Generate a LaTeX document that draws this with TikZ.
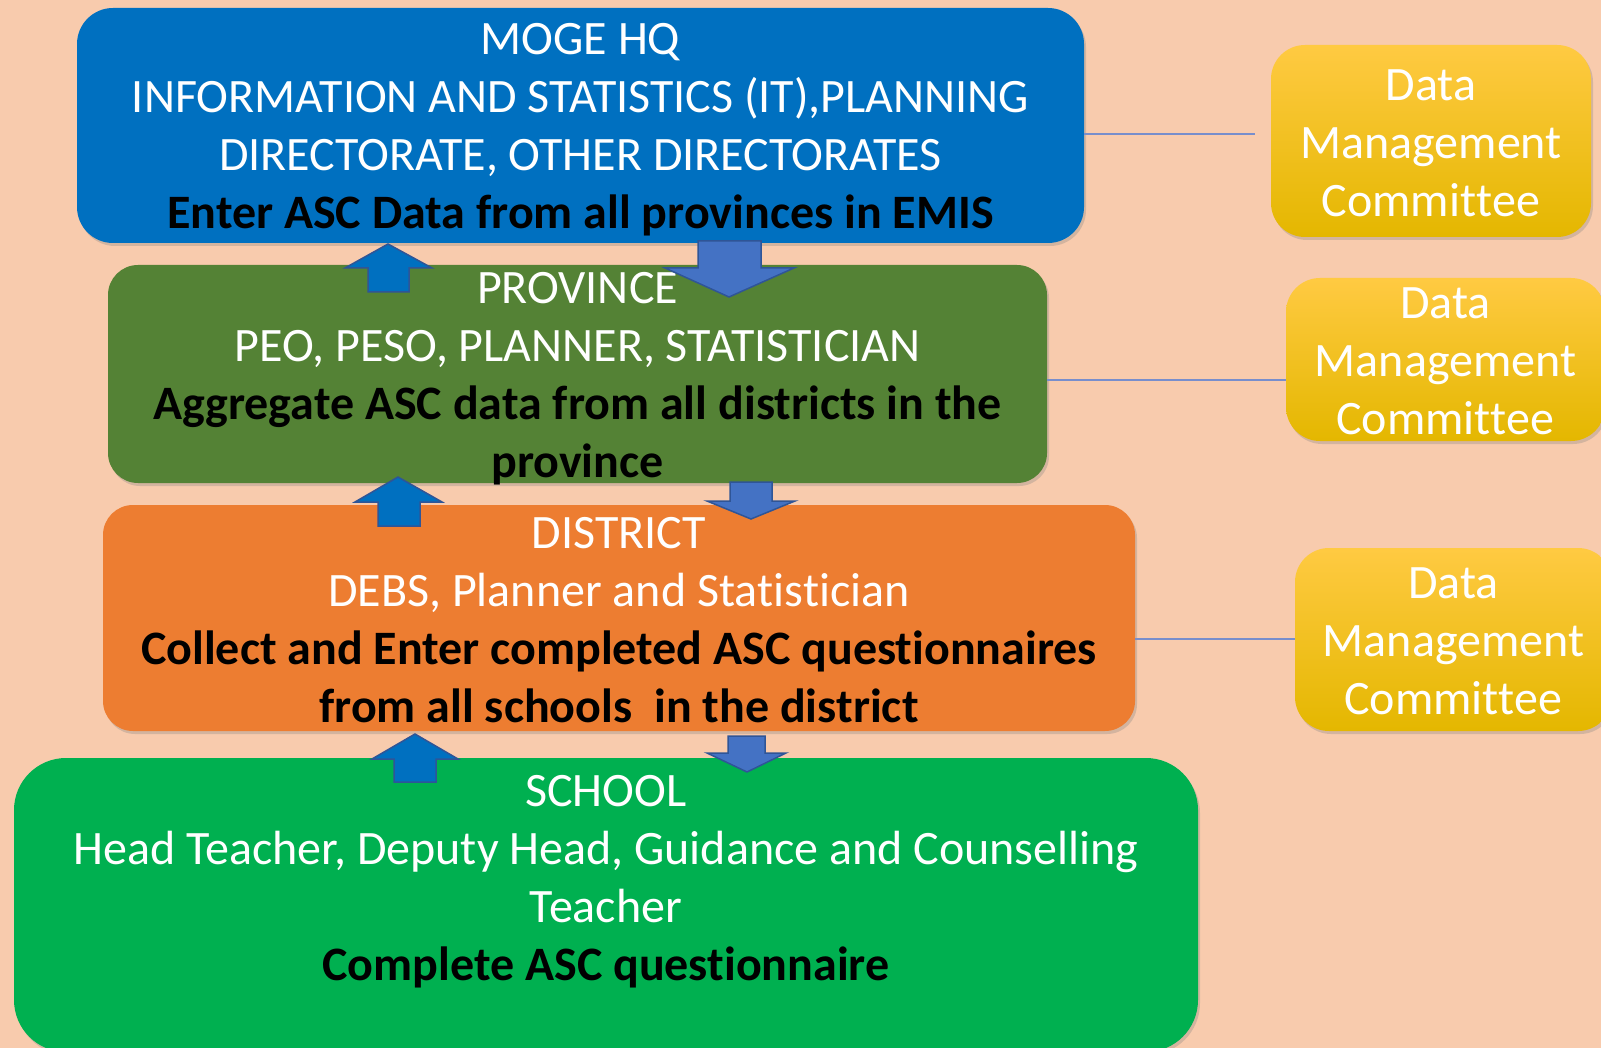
\documentclass[tikz,border=0pt]{standalone}
\usepackage{fontspec}
\setmainfont{Carlito}[Ligatures={NoCommon,NoContextual}, RawFeature={-liga;-clig;-dlig;-calt}]
\usetikzlibrary{shadows}
% zero kern that keeps letter pairs such as t+i apart
\newcommand{\brk}{\kern0pt{}}
\definecolor{pagebg}{HTML}{F8CBAD}
\definecolor{hqblue}{HTML}{0070C0}
\definecolor{provgreen}{HTML}{548235}
\definecolor{distorange}{HTML}{ED7D31}
\definecolor{schoolgreen}{HTML}{00B050}
\definecolor{goldtop}{RGB}{255,202,66}
\definecolor{goldmid}{RGB}{255,199,0}
\definecolor{goldbot}{RGB}{228,183,0}
\definecolor{linkblue}{RGB}{120,142,204}
\definecolor{arrowedge}{HTML}{2F5597}
\definecolor{downblue}{HTML}{4472C4}
\begin{document}
\begin{tikzpicture}[x=1pt,y=-1pt,
  txt/.style={font=\fontsize{48}{58}\selectfont, align=center, text=white, inner sep=0pt},
  level/.style={inner sep=0pt, rounded corners=36pt,
    drop shadow={shadow xshift=2pt, shadow yshift=-3pt, opacity=0.3}},
  dmc/.style={level, rounded corners=34pt, top color=goldtop, middle color=goldmid, bottom color=goldbot},
  link/.style={draw=linkblue, line width=1.3pt},
  uparrow/.style={fill=hqblue, draw=arrowedge, line width=1.5pt, line join=miter},
  downarrow/.style={fill=downblue, draw=arrowedge, line width=1.5pt, line join=miter}]
\fill[pagebg] (0,0) rectangle (1601,1048);
\useasboundingbox (0,0) rectangle (1601,1048);

% the four reporting levels
\node[level, fill=hqblue, minimum width=1007pt, minimum height=235pt] (hq) at (580.5,125.5) {};
\node[txt] (hqtext) at (580.5,129.5)
  {MOGE HQ\\INFORMATION AND STATISTICS (IT),PLANNING\\DIRECTORATE, OTHER DIRECTORATES\\
   \textcolor{black}{\bfseries Enter ASC Data from all provinces in EMIS}};
\node[level, fill=provgreen, rounded corners=30pt, minimum width=939pt, minimum height=218pt] (prov) at (577.5,374) {};
\node[txt] (provtext) at (577.5,379)
  {PROVINCE\\PEO, PESO, PLANNER, STATISTICIAN\\
   \textcolor{black}{\bfseries Aggregate ASC data from all districts in the}\\
   \textcolor{black}{\bfseries province}};
\node[level, fill=distorange, rounded corners=30pt, minimum width=1032pt, minimum height=226pt] (dist) at (619,618) {};
\node[txt] (disttext) at (619,620.5)
  {DISTRICT\\DEBS, Planner and Stat\brk is\brk t\brk ician\\
   \textcolor{black}{\bfseries Collect and Enter completed ASC quest\brk ionnaires}\\
   \textcolor{black}{\bfseries from all schools~ in the district}};
\node[level, fill=schoolgreen, rounded corners=52pt, minimum width=1184pt, minimum height=294pt] (school) at (606,905) {};
\node[txt] (schooltext) at (606,881.5)
  {SCHOOL\\Head Teacher, Deputy Head, Guidance and Counselling\\Teacher\\
   \textcolor{black}{\bfseries Complete ASC quest\brk ionnaire}};

% data management committees
\node[dmc, minimum width=320pt, minimum height=192pt] (dmc1) at (1431,141) {};
\node[txt] (dmc1text) at (1431,143) {Data\\Management\\Commit\brk t\brk ee};
\node[dmc, minimum width=319pt, minimum height=163pt] (dmc2) at (1445.5,359.5) {};
\node[txt] (dmc2text) at (1445.5,361.5) {Data\\Management\\Commit\brk t\brk ee};
\node[dmc, minimum width=317pt, minimum height=183pt] (dmc3) at (1453.5,639.5) {};
\node[txt] (dmc3text) at (1453.5,641.5) {Data\\Management\\Commit\brk t\brk ee};

% links from each level to its committee
\coordinate (l1) at (1255,134);
\coordinate (l2) at (0,380);
\coordinate (l3) at (0,639);
\draw[link] (hq.east |- l1) -- (l1);
\draw[link] (prov.east |- l2) -- (dmc2.west |- l2);
\draw[link] (dist.east |- l3) -- (dmc3.west |- l3);

% block arrows: reporting upward, feedback downward
\draw[uparrow] (388,244) -- (432,268) -- (409,268) -- (409,292) -- (368,292) -- (368,268) -- (345,268) -- cycle;
\draw[downarrow] (698,241) -- (761,241) -- (761,268) -- (794,268) -- (729,297) -- (665,268) -- (698,268) -- cycle;
\draw[uparrow] (398,477) -- (442,502) -- (420,502) -- (420,526) -- (378,526) -- (378,502) -- (355,502) -- cycle;
\draw[downarrow] (730,482) -- (772,482) -- (772,501) -- (795,501) -- (751,519) -- (707,501) -- (730,501) -- cycle;
\draw[uparrow] (415,734) -- (458,759) -- (436,759) -- (436,782) -- (394,782) -- (394,759) -- (372,759) -- cycle;
\draw[downarrow] (728,736) -- (765,736) -- (765,753) -- (786,753) -- (747,772) -- (707,753) -- (728,753) -- cycle;
\end{tikzpicture}
\end{document}
